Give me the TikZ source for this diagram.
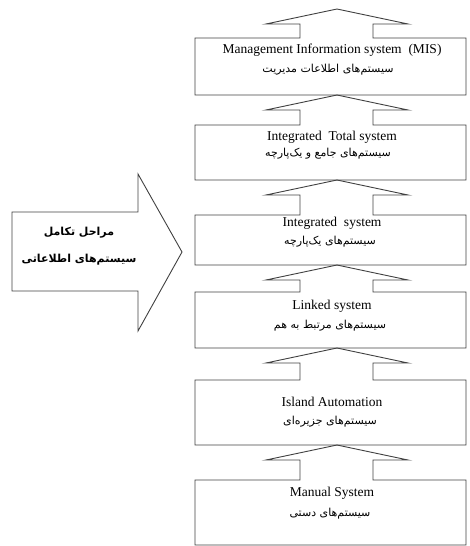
\documentclass[tikz,border=0pt]{standalone}
\usepackage{fontspec}
\setmainfont{Liberation Serif}
\newfontfamily\farsi[Script=Arabic]{DejaVu Sans}
\TeXXeTstate=1
\usepackage{tikz}
\tikzset{
  >=latex,
}
\tikzstyle{outline}=[line width=.9pt,draw=black!75,line join=miter]
\tikzstyle{en}=[inner sep=0pt,font=\fontsize{13.5}{15}\selectfont]
\tikzstyle{fa}=[inner sep=0pt,font=\farsi\fontsize{11}{13}\selectfont]
\tikzstyle{title}=[inner sep=0pt,font=\farsi\bfseries\fontsize{11}{13}\selectfont]

\begin{document}
\begin{tikzpicture}[x=1pt,y=-1pt]
    \useasboundingbox (0,0) rectangle (469,546);
    % stages: box top / box bottom / arrow tip above the box
    \foreach \t/\b/\a in {38/95/9, 125/180/95, 215/265/180, 292/348/265, 380/445/348, 480/545/445}
      \draw[outline] (195,\b)--(195,\t)--(300,\t)--(300,\a+15)--(266,\a+15)--(337,\a)
        --(408,\a+15)--(373,\a+15)--(373,\t)--(466,\t)--(466,\b)--cycle;
    % big arrow on the left
    \draw[outline] (12,212)--(138,212)--(138,174)--(182,252)--(138,331)--(138,291)--(12,291)--cycle;
    \node[title] (stages) at (79,233) {\beginR مراحل تکامل\endR};
    \node[title] (infosys) at (79,260) {\beginR سیستم‌های اطلاعاتی\endR};

    \node[en] (mis) at (332,50) {Management Information system\ \ (MIS)};
    \node[fa] (mis-fa) at (328,70) {\beginR سیستم‌های اطلاعات مدیریت\endR};
    \node[en] (total) at (332,137) {Integrated\ \ Total system};
    \node[fa] (total-fa) at (328,154) {\beginR سیستم‌های جامع و یک‌پارچه\endR};
    \node[en] (integ) at (332,223) {Integrated\ \ system};
    \node[fa] (integ-fa) at (330,242) {\beginR سیستم‌های یک‌پارچه\endR};
    \node[en] (linked) at (332,306) {Linked system};
    \node[fa] (linked-fa) at (330,326) {\beginR سیستم‌های مرتبط به هم\endR};
    \node[en] (island) at (332,402) {Island Automation};
    \node[fa] (island-fa) at (330,422) {\beginR سیستم‌های جزیره‌ای\endR};
    \node[en] (manual) at (332,493) {Manual System};
    \node[fa] (manual-fa) at (330,514) {\beginR سیستم‌های دستی\endR};
\end{tikzpicture}
\end{document}
